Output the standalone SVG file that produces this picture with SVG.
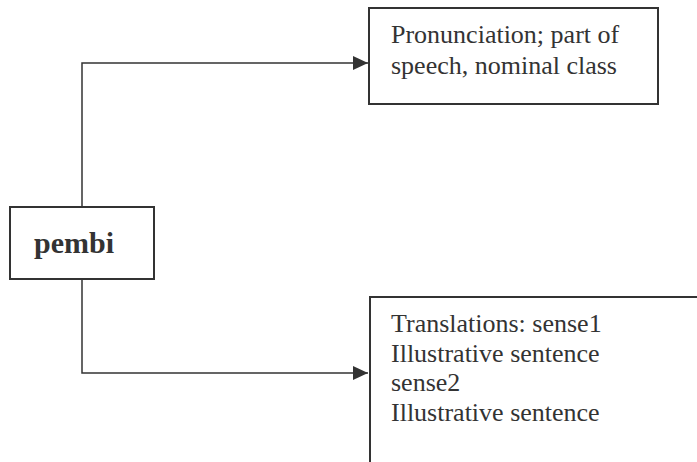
<svg xmlns="http://www.w3.org/2000/svg" width="697" height="462" viewBox="0 0 697 462">
<style>
.box{fill:#fff;stroke:#333;stroke-width:2}
.conn{fill:none;stroke:#333;stroke-width:1.5}
.t{font-family:"Liberation Serif","Times New Roman",serif;font-size:26px;fill:#333}
.b{font-family:"Liberation Serif","Times New Roman",serif;font-size:30px;font-weight:bold;fill:#333}
</style>
<defs>
<marker id="arr" markerWidth="15" markerHeight="14" refX="15" refY="7" orient="auto" markerUnits="userSpaceOnUse" viewBox="0 0 15 14">
<path d="M0,0 L15,7 L0,14 Z" fill="#333"/>
</marker>
</defs>
<g id="connectors">
<path class="conn" d="M82,207 V63 H368" marker-end="url(#arr)"/>
<path class="conn" d="M82,279 V373 H368" marker-end="url(#arr)"/>
</g>
<g id="pembi">
<rect class="box" x="10" y="207" width="144" height="72"/>
<text class="b" x="34" y="253">pembi</text>
</g>
<g id="pronunciation">
<rect class="box" x="369" y="8" width="289" height="96"/>
<text class="t" x="391" y="43">Pronunciation; part of</text>
<text class="t" x="391" y="74">speech, nominal class</text>
</g>
<g id="translations">
<rect class="box" x="370" y="297" width="340" height="180"/>
<text class="t" x="391" y="332">Translations: sense1</text>
<text class="t" x="391" y="362">Illustrative sentence</text>
<text class="t" x="391" y="391">sense2</text>
<text class="t" x="391" y="421">Illustrative sentence</text>
</g>
</svg>
